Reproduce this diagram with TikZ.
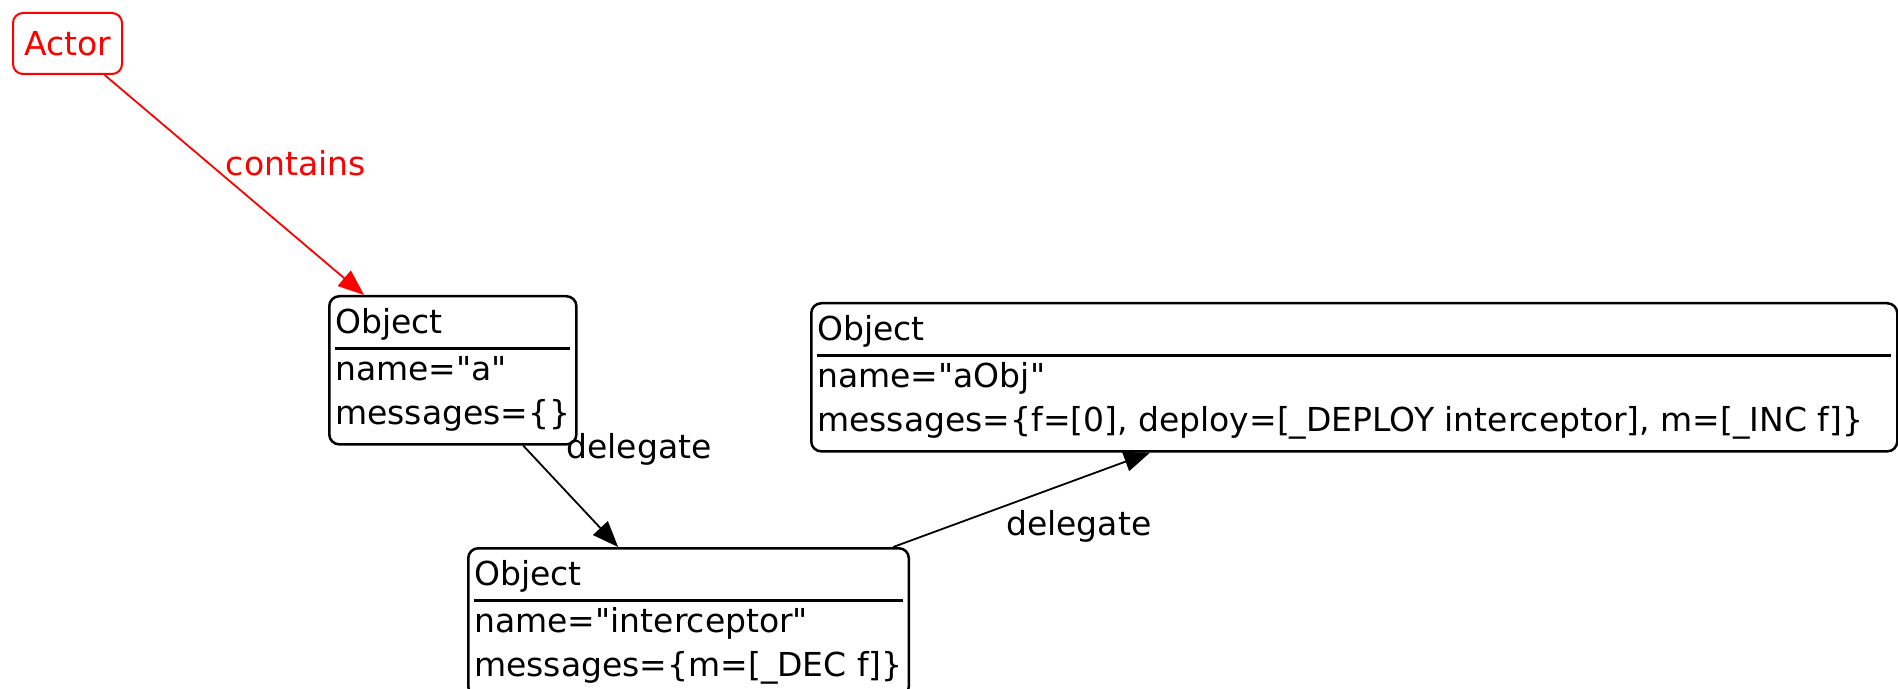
\documentclass[tikz,border=0pt]{standalone}
\usepackage{fontspec}
\newfontfamily\dejavu{DejaVu Sans}
\usetikzlibrary{arrows.meta, positioning}
\newcommand{\objfont}{\dejavu\fontsize{16.5}{22}\selectfont}
\newcommand{\objrows}[3]{\begin{tabular}{@{}l@{}}\makebox[#1][l]{Object}\\\hline #2\\#3\end{tabular}}
\setlength{\arrayrulewidth}{1.25pt}

\begin{document}
\begin{tikzpicture}[x=0.5pt, y=-0.5pt,
    obj/.style={draw, line width=1.25pt, rounded corners=5pt, inner xsep=3pt, inner ysep=3.4pt, anchor=north west, font=\objfont},
    link/.style={-{Triangle[length=13pt, width=10pt]}, line width=0.9pt},
    lbl/.style={font=\objfont}]
  \useasboundingbox (0,0) rectangle (1898,689);
  \node[draw=red, text=red, line width=1pt, rounded corners=5pt, minimum width=54.5pt, minimum height=30.5pt, anchor=north west, font=\objfont] (actor) at (12,12) {Actor};
  \node[obj] (a) at (328,295) {\objrows{115.5pt}{name="a"}{messages=\{\}}};
  \node[obj] (icpt) at (467,547) {\objrows{213.5pt}{name="interceptor"}{messages=\{m=[\_DEC f]\}}};
  \node[obj] (aobj) at (810,302) {\objrows{537pt}{name="aObj"}{messages=\{f=[0], deploy=[\_DEPLOY interceptor], m=[\_INC f]\}}};

  \draw[link, red] (actor) -- node[lbl, pos=0.4, right, xshift=5pt] {contains} (a);
  \draw[link] (a) -- node[lbl, pos=0.04, right, xshift=16pt] {delegate} (icpt);
  \draw[link] (icpt) -- node[lbl, pos=0.59, anchor=north, xshift=17pt, yshift=-6pt] {delegate} (aobj);
\end{tikzpicture}
\end{document}
